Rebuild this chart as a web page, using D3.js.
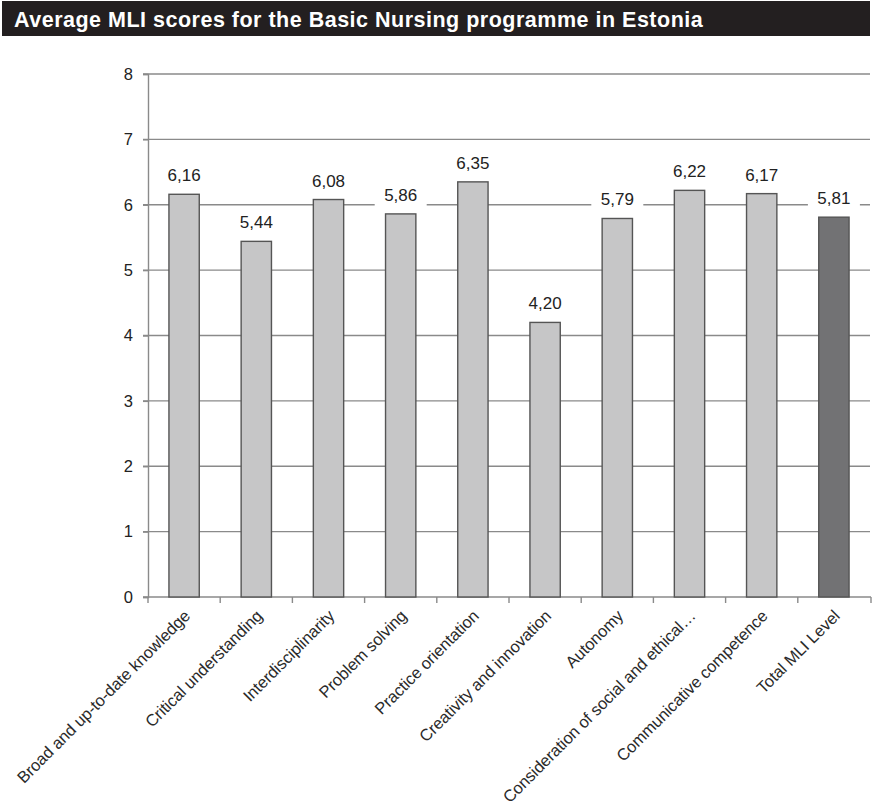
<!DOCTYPE html>
<html><head><meta charset="utf-8">
<script src="https://cdn.jsdelivr.net/npm/d3@7"></script>
<style>body{margin:0;background:#fff;} svg{display:block;font-family:"Liberation Sans",Arial,sans-serif;}</style>
</head><body>
<svg id="c" width="872" height="808"></svg>
<script>
const title = "Average MLI scores for the Basic Nursing programme in Estonia";
const categories = ["Broad and up-to-date knowledge","Critical understanding","Interdisciplinarity","Problem solving","Practice orientation","Creativity and innovation","Autonomy","Consideration of social and ethical…","Communicative competence","Total MLI Level"];
const values = [6.16,5.44,6.08,5.86,6.35,4.20,5.79,6.22,6.17,5.81];
const yTicks = [0,1,2,3,4,5,6,7,8];

const svg = d3.select("#c");
svg.append("rect").attr("x",2).attr("y",1).attr("width",868).attr("height",35).attr("fill","#231f20");
svg.append("text").attr("x",14).attr("y",27).attr("fill","#fff").attr("font-size",21.5)
  .attr("letter-spacing",0.5).attr("font-weight","bold").text(title);

const x = d3.scaleBand().domain(categories).range([148,870]).paddingInner(0.58).paddingOuter(0.29);
const y = d3.scaleLinear().domain([0,8]).range([597,74]);

// grid
svg.append("g").selectAll("line").data(yTicks.filter(d=>d>0)).join("line")
  .attr("x1",143).attr("x2",870).attr("y1",d=>y(d)).attr("y2",d=>y(d))
  .attr("stroke","#8a8a8a").attr("stroke-width",1.4);

// y axis
const ya = svg.append("g").attr("transform","translate(148,0)").call(d3.axisLeft(y).tickValues(yTicks).tickSize(5).tickPadding(10));
ya.select(".domain").attr("stroke","#8a8a8a").attr("stroke-width",1.4);
ya.selectAll(".tick line").attr("stroke","#8a8a8a").attr("stroke-width",1.4);
ya.selectAll(".tick text").attr("font-size",16.5).attr("fill","#222").attr("font-family","Liberation Sans, Arial, sans-serif");

// x axis
const step = x.step();
const xa = svg.append("g").attr("transform","translate(0,597)");
xa.append("line").attr("x1",143).attr("x2",871).attr("y1",0).attr("y2",0).attr("stroke","#8a8a8a").attr("stroke-width",1.4);
const bounds = categories.map((c,i)=>148 + i*step).concat([871]);
xa.selectAll("line.t").data(bounds).join("line").attr("class","t")
  .attr("x1",d=>d).attr("x2",d=>d).attr("y1",0).attr("y2",6).attr("stroke","#8a8a8a").attr("stroke-width",1.4);
xa.selectAll("text").data(categories).join("text")
  .attr("transform",d=>`translate(${x(d)+x.bandwidth()/2+7},20) rotate(-45)`)
  .attr("text-anchor","end").attr("font-size",16.5).attr("letter-spacing",-0.1).attr("fill","#2a2a2a").text(d=>d);

// bars
svg.append("g").selectAll("rect").data(values).join("rect")
  .attr("x",(d,i)=>x(categories[i])).attr("width",x.bandwidth())
  .attr("y",d=>y(d)).attr("height",d=>y(0)-y(d))
  .attr("fill",(d,i)=>i===categories.length-1?"#727274":"#c6c6c7")
  .attr("stroke","#555").attr("stroke-width",1.4);

// value labels
const lg = svg.append("g");
values.forEach((v,i)=>{
  const cx = x(categories[i])+x.bandwidth()/2;
  const ty = y(v)-13;
  const label = v.toFixed(2).replace(".",",");
  lg.append("rect").attr("x",cx-26).attr("y",ty-16).attr("width",52).attr("height",22).attr("fill","#fff");
  lg.append("text").attr("x",cx).attr("y",ty).attr("text-anchor","middle").attr("font-size",17).attr("fill","#222").text(label);
});
</script>
</body></html>
